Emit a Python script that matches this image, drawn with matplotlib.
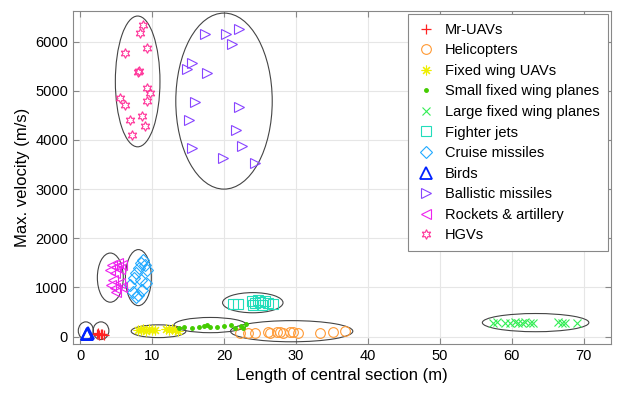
import matplotlib
matplotlib.use("Agg")
import matplotlib.pyplot as plt
from matplotlib.patches import Ellipse

plt.rcParams['font.family'] = ['Liberation Sans', 'DejaVu Sans']

# ---- data ----
mr_uav_x = [2.3, 2.6, 2.9, 3.1, 3.3, 2.5]
mr_uav_y = [50, 40, 45, 60, 30, 65]

heli_x = [22.2, 23.3, 24.3, 26.1, 26.4, 27.4, 27.8, 28.2, 29.2, 29.6, 30.3, 33.3, 35.1, 36.8]
heli_y = [80, 70, 75, 90, 80, 100, 85, 75, 95, 90, 80, 70, 90, 110]

fw_uav_x = [8.0, 8.4, 8.8, 9.2, 9.6, 10.0, 10.4, 12.0, 12.4, 12.8, 13.2, 13.6]
fw_uav_y = [140, 130, 150, 120, 160, 140, 130, 150, 130, 160, 140, 120]

small_x = [13.8, 14.5, 15.5, 16.5, 17.2, 17.6, 18.0, 19.0, 20.0, 21.0, 21.5, 22.3, 22.7, 23.0]
small_y = [180, 200, 170, 190, 210, 230, 200, 200, 210, 230, 180, 220, 180, 250]

large_x = [57.4, 57.9, 59.0, 59.7, 60.4, 60.8, 61.4, 61.8, 62.5, 62.9, 66.4, 66.9, 67.4, 69.0]
large_y = [280, 290, 285, 280, 290, 285, 280, 290, 285, 280, 290, 280, 285, 285]

fighter_x = [21.3, 22.0, 23.9, 24.3, 24.7, 25.3, 25.7, 26.1, 26.8, 24.0, 25.0]
fighter_y = [660, 660, 720, 690, 740, 650, 720, 680, 660, 640, 700]

cruise_x = [8.5, 9.0, 8.2, 9.3, 8.8, 7.8, 7.5, 8.5, 9.2, 7.0, 7.3, 8.0, 8.6, 7.8]
cruise_y = [1500, 1450, 1400, 1350, 1550, 1300, 1200, 1150, 1100, 1050, 900, 850, 950, 800]

birds_x = [1.0, 1.1, 0.9]
birds_y = [50, 70, 60]

ballistic_x = [17.4, 20.3, 22.1, 21.1, 15.6, 14.8, 17.6, 16.0, 22.1, 15.2, 21.7, 22.5, 15.5, 19.8, 24.3]
ballistic_y = [6160, 6150, 6250, 5960, 5560, 5440, 5370, 4770, 4660, 4400, 4210, 3880, 3830, 3640, 3540]

rockets_x = [4.5, 5.0, 5.5, 4.8, 5.3, 5.8, 4.2, 4.3, 4.9, 5.5, 5.0, 5.8, 4.6]
rockets_y = [1450, 1420, 1380, 1300, 1500, 1460, 1350, 1050, 980, 1100, 900, 1000, 1150]

hgv_x = [8.7, 8.3, 6.25, 9.35, 8.1, 8.2, 9.25, 9.7, 5.55, 6.3, 9.35, 8.65, 6.95, 9.0, 7.2]
hgv_y = [6340, 6170, 5760, 5860, 5390, 5410, 5050, 4960, 4850, 4710, 4800, 4490, 4410, 4290, 4110]

labels = ['Mr-UAVs', 'Helicopters', 'Fixed wing UAVs', 'Small fixed wing planes',
          'Large fixed wing planes', 'Fighter jets', 'Cruise missiles', 'Birds',
          'Ballistic missiles', 'Rockets & artillery', 'HGVs']

# ellipses: (cx, cy, width, height)
ell_cx = [0.8, 2.9, 10.9, 18.1, 29.4, 24.0, 63.3, 4.2, 8.1, 8.0, 20.0]
ell_cy = [120, 120, 110, 235, 110, 690, 285, 1200, 1200, 5190, 4790]
ell_w = [2.1, 2.2, 7.6, 10.1, 17.0, 8.4, 14.8, 3.6, 3.6, 6.2, 13.4]
ell_h = [360, 360, 260, 310, 430, 410, 370, 1000, 1140, 2660, 3580]

fig = plt.figure(figsize=(6.23, 3.97), dpi=100)
ax = fig.add_axes([0.117, 0.1335, 0.864, 0.8385])

for cx, cy, w, h in zip(ell_cx, ell_cy, ell_w, ell_h):
    ax.add_patch(Ellipse((cx, cy), w, h, fill=False, edgecolor='#444444', lw=0.8, zorder=1))

ms = 7
ax.plot(mr_uav_x, mr_uav_y, '+', color='#ff2222', ms=ms, mew=0.9, ls='none', label=labels[0])
ax.plot(heli_x, heli_y, 'o', color='#ff9933', mfc='none', ms=ms, mew=0.8, ls='none', label=labels[1])
ax.plot(fw_uav_x, fw_uav_y, marker=(8, 2, 0), color='#eeee00', ms=ms, mew=0.8, ls='none', label=labels[2])
ax.plot(small_x, small_y, '.', color='#44cc00', ms=5, ls='none', label=labels[3])
ax.plot(large_x, large_y, 'x', color='#33ee55', ms=6, mew=0.8, ls='none', label=labels[4])
ax.plot(fighter_x, fighter_y, 's', color='#22ddbb', mfc='none', ms=ms, mew=0.8, ls='none', label=labels[5])
ax.plot(cruise_x, cruise_y, 'D', color='#22aaff', mfc='none', ms=6.5, mew=0.8, ls='none', label=labels[6])
ax.plot(birds_x, birds_y, '^', color='#0022ff', mfc='none', ms=8, mew=1.3, ls='none', label=labels[7])
ax.plot(ballistic_x, ballistic_y, '>', color='#8844ff', mfc='none', ms=ms, mew=0.8, ls='none', label=labels[8])
ax.plot(rockets_x, rockets_y, '<', color='#ee22ee', mfc='none', ms=ms, mew=0.8, ls='none', label=labels[9])
ax.plot(hgv_x, hgv_y, marker=(6, 1, 0), color='#ff3399', mfc='none', ms=ms, mew=0.8, ls='none', label=labels[10])

ax.set_xlim(-1, 73.8)
ax.set_ylim(-150, 6620)
ax.set_xticks(range(0, 71, 10))
ax.set_yticks(range(0, 6001, 1000))
ax.grid(True, color='#e6e6e6', lw=0.8)
ax.set_axisbelow(True)
ax.tick_params(direction='in', top=True, right=True, labelsize=10.5, color='#888888', length=4)
for s in ax.spines.values():
    s.set_color('#888888')
    s.set_linewidth(0.8)

ax.set_xlabel('Length of central section (m)', fontsize=12)
ax.set_ylabel('Max. velocity (m/s)', fontsize=12)

leg = ax.legend(loc='upper right', fontsize=10.5, frameon=True, fancybox=False,
                edgecolor='#888888', framealpha=1, labelspacing=0.45, handletextpad=0.7,
                borderaxespad=0.2, borderpad=0.6, handlelength=1.2)
leg.get_frame().set_linewidth(0.8)

fig.savefig('out.png', dpi=100)
